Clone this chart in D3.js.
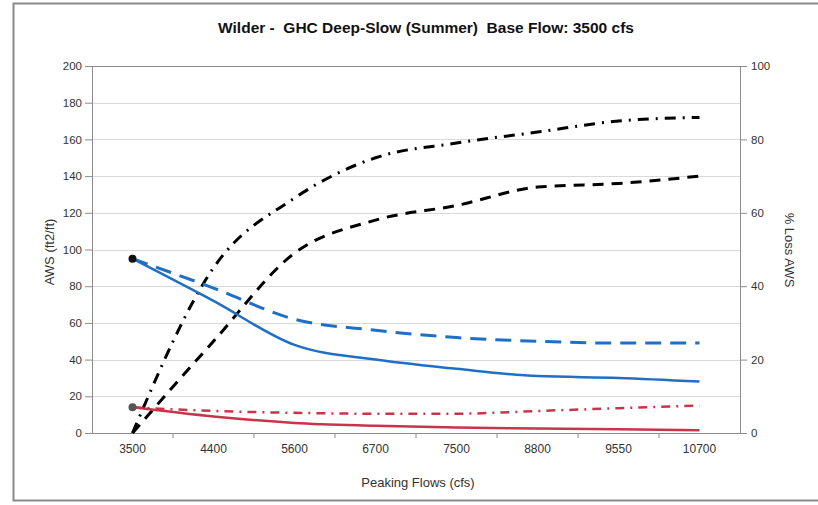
<!DOCTYPE html>
<html>
<head>
<meta charset="utf-8" />
<title>Wilder - GHC Deep-Slow (Summer)</title>
<style type="text/css">
    body { margin: 0; background-color: #fff; }
    svg { display: block; font-family: "Liberation Sans", Arial, sans-serif; }
    .grid line { stroke: #d9d9d9; stroke-width: 1px; }
    .axis path, .axis line { stroke: #8c8c8c; }
    .axis text { fill: #333; font-size: 11.5px; }
    .xaxis text { font-size: 12px; }
    .axislabel { fill: #333; font-size: 13px; }
    .title { fill: #111; font-size: 15.5px; font-weight: bold; white-space: pre; }
    .series { fill: none; stroke-linecap: butt; }
</style>
<script type="text/javascript" src="https://d3js.org/d3.v7.min.js"></script>
</head>
<body>
<div id="chart"></div>
<script type="text/javascript">
    // categories on the x axis
    var flows = ["3500", "4400", "5600", "6700", "7500", "8800", "9550", "10700"];

    // left axis, AWS (ft2/ft)
    var awsBlueSolid  = [95, 72, 48, 40, 35, 31, 30, 28];
    var awsBlueDashed = [95, 79, 62, 56, 52, 50, 49, 49];
    var awsRedSolid   = [14, 9, 5.5, 4, 3, 2.5, 2, 1.5];
    var awsRedDashDot = [14, 12, 11, 10.5, 10.5, 12, 13.5, 15];

    // right axis, % Loss AWS
    var lossDashed  = [0, 25, 49, 58, 62, 67, 68, 70];
    var lossDashDot = [0, 45, 64, 75, 79, 82, 85, 86];

    var leftTicks = [0, 20, 40, 60, 80, 100, 120, 140, 160, 180, 200];
    var rightTicks = [0, 20, 40, 60, 80, 100];

    var width = 818,
        height = 505,
        plotLeft = 92,
        plotRight = 740,
        plotTop = 66,
        plotBottom = 433;

    var svg = d3.select("#chart")
        .append("svg")
        .attr("width", width)
        .attr("height", height);

    // outer frame
    svg.append("rect")
        .attr("x", 13.5)
        .attr("y", 3.5)
        .attr("width", 830)
        .attr("height", 497)
        .attr("fill", "#fff")
        .attr("stroke", "#8a8a8a")
        .attr("stroke-width", 2);

    var xScale = d3.scaleBand().domain(flows).range([plotLeft, plotRight]).padding(0);
    var yLeft = d3.scaleLinear().domain([0, 200]).range([plotBottom, plotTop]);
    var yRight = d3.scaleLinear().domain([0, 100]).range([plotBottom, plotTop]);

    function xPos(d, i) {
        return xScale(flows[i]) + xScale.bandwidth() / 2;
    }

    // gridlines
    svg.append("g")
        .attr("class", "grid")
        .selectAll("line")
        .data(leftTicks.slice(1))
        .enter()
        .append("line")
        .attr("x1", plotLeft)
        .attr("x2", plotRight)
        .attr("y1", function (d) { return Math.round(yLeft(d)) + 0.5; })
        .attr("y2", function (d) { return Math.round(yLeft(d)) + 0.5; });

    // axes
    var yAxisL = d3.axisLeft(yLeft).tickValues(leftTicks).tickSize(7).tickPadding(3);
    svg.append("g")
        .attr("class", "axis")
        .attr("transform", "translate(" + plotLeft + ",0)")
        .call(yAxisL);

    var yAxisR = d3.axisRight(yRight).tickValues(rightTicks).tickSize(7).tickPadding(4);
    svg.append("g")
        .attr("class", "axis")
        .attr("transform", "translate(" + plotRight + ",0)")
        .call(yAxisR);

    var xAxis = d3.axisBottom(xScale).tickSize(0).tickPadding(11);
    var xAxisG = svg.append("g")
        .attr("class", "axis xaxis")
        .attr("transform", "translate(0," + plotBottom + ")")
        .call(xAxis);
    // tick marks sit between categories
    xAxisG.selectAll(".between")
        .data(flows.slice(1))
        .enter()
        .append("line")
        .attr("class", "between")
        .attr("x1", function (d) { return xScale(d); })
        .attr("x2", function (d) { return xScale(d); })
        .attr("y1", 0)
        .attr("y2", 5);

    // top border of the plot area
    svg.append("line")
        .attr("x1", plotLeft).attr("x2", plotRight)
        .attr("y1", plotTop + 0.5).attr("y2", plotTop + 0.5)
        .attr("stroke", "#8c8c8c");

    // series
    var series = [
        { values: lossDashed, scale: yRight, color: "#000", w: 3, dash: "11,8" },
        { values: lossDashDot, scale: yRight, color: "#000", w: 3, dash: "11,7,2,7" },
        { values: awsBlueDashed, scale: yLeft, color: "#1f6fc5", w: 3, dash: "16,9" },
        { values: awsBlueSolid, scale: yLeft, color: "#1f6fc5", w: 2.5, dash: null },
        { values: awsRedDashDot, scale: yLeft, color: "#c9344b", w: 2.5, dash: "9,6,2,6" },
        { values: awsRedSolid, scale: yLeft, color: "#c9344b", w: 2.5, dash: null }
    ];

    series.forEach(function (s) {
        var line = d3.line()
            .x(xPos)
            .y(function (d) { return s.scale(d); })
            .curve(d3.curveMonotoneX);
        svg.append("path")
            .datum(s.values)
            .attr("class", "series")
            .attr("d", line)
            .attr("stroke", s.color)
            .attr("stroke-width", s.w)
            .attr("stroke-dasharray", s.dash);
    });

    // start markers
    svg.append("circle")
        .attr("cx", xPos(null, 0))
        .attr("cy", yLeft(awsBlueSolid[0]))
        .attr("r", 4)
        .attr("fill", "#111");
    svg.append("circle")
        .attr("cx", xPos(null, 0))
        .attr("cy", yLeft(awsRedSolid[0]))
        .attr("r", 4)
        .attr("fill", "#555");

    // titles
    svg.append("text")
        .attr("class", "title")
        .attr("x", 426)
        .attr("y", 33)
        .attr("text-anchor", "middle")
        .text("Wilder -  GHC Deep-Slow (Summer)  Base Flow: 3500 cfs");

    svg.append("text")
        .attr("class", "axislabel")
        .attr("x", 418)
        .attr("y", 487)
        .attr("text-anchor", "middle")
        .text("Peaking Flows (cfs)");

    svg.append("text")
        .attr("class", "axislabel")
        .attr("transform", "translate(54,252) rotate(-90)")
        .attr("text-anchor", "middle")
        .text("AWS (ft2/ft)");

    svg.append("text")
        .attr("class", "axislabel")
        .attr("transform", "translate(785,250) rotate(90)")
        .attr("text-anchor", "middle")
        .text("% Loss AWS");
</script>
</body>
</html>
